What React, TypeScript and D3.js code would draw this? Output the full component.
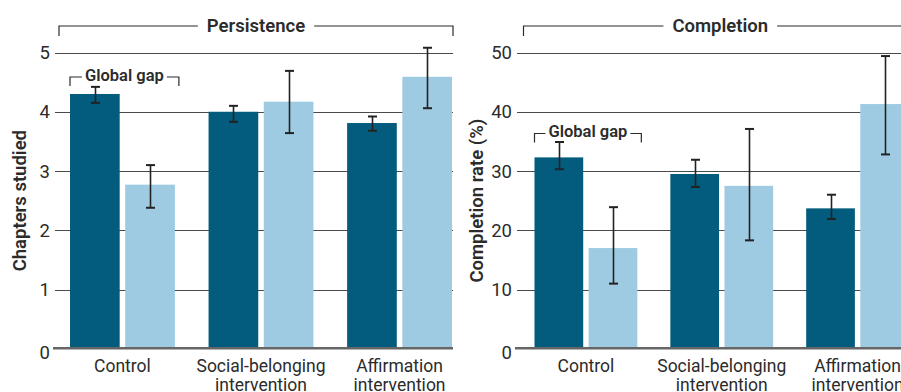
import { useEffect, useRef } from "react";
import * as d3 from "d3";

// Persistence & completion by intervention, two country groups.
const categories = ["Control", "Social-belonging intervention", "Affirmation intervention"];
const seriesNames = ["More-developed countries", "Less-developed countries"];

const persistenceDark = [4.3, 4.0, 3.81];
const persistenceLight = [2.77, 4.17, 4.59];
const persistenceDarkCI = [[4.15, 4.42], [3.83, 4.1], [3.68, 3.92]];
const persistenceLightCI = [[2.38, 3.1], [3.64, 4.69], [4.06, 5.08]];
const persistenceTicks = [0, 1, 2, 3, 4, 5];

const completionDark = [32.3, 29.5, 23.7];
const completionLight = [17.0, 27.5, 41.3];
const completionDarkCI = [[30.3, 34.9], [27.3, 31.9], [21.9, 26.0]];
const completionLightCI = [[11.0, 23.9], [18.3, 37.1], [32.8, 49.4]];
const completionTicks = [0, 10, 20, 30, 40, 50];

const DARK = "#035c7e";
const LIGHT = "#9ecbe2";
const INK = "#2b2b2b";
const FONT = "Roboto, 'Liberation Sans', sans-serif";

type Panel = {
  title: string;
  yTitle: string;
  dark: number[];
  light: number[];
  darkCI: number[][];
  lightCI: number[][];
  ticks: number[];
  max: number;
  gridX: [number, number];
  barX: [number, number];
  bracketX: [number, number];
  yTitleX: number;
  gapY: number;
};

const panels: Panel[] = [
  {
    title: "Persistence",
    yTitle: "Chapters studied",
    dark: persistenceDark,
    light: persistenceLight,
    darkCI: persistenceDarkCI,
    lightCI: persistenceLightCI,
    ticks: persistenceTicks,
    max: 5,
    gridX: [55, 453],
    barX: [70, 452],
    bracketX: [59, 453],
    yTitleX: 26,
    gapY: 77,
  },
  {
    title: "Completion",
    yTitle: "Completion rate (%)",
    dark: completionDark,
    light: completionLight,
    darkCI: completionDarkCI,
    lightCI: completionLightCI,
    ticks: completionTicks,
    max: 50,
    gridX: [517, 910],
    barX: [534.5, 909],
    bracketX: [523.5, 917],
    yTitleX: 483,
    gapY: 133.5,
  },
];

export default function App() {
  const svgRef = useRef<SVGSVGElement>(null);

  useEffect(() => {
    document.body.style.margin = "0";
    const svg = d3.select(svgRef.current);
    svg.selectAll("*").remove();

    const y0 = 348.8;
    const yTop = 52.5;

    panels.forEach((p) => {
      const g = svg.append("g");
      const y = d3.scaleLinear().domain([0, p.max]).range([y0, yTop]);
      const x0 = d3.scaleBand().domain(categories).range(p.barX).paddingInner(0.243).paddingOuter(0);
      const x1 = d3.scaleBand().domain(seriesNames).range([0, x0.bandwidth()]).paddingInner(0.1);

      // gridlines + tick labels
      p.ticks.forEach((t) => {
        if (t === 0) return;
        g.append("line")
          .attr("x1", p.gridX[0]).attr("x2", p.gridX[1])
          .attr("y1", Math.round(y(t)) + 0.5).attr("y2", Math.round(y(t)) + 0.5)
          .attr("stroke", "#4a4a4a").attr("stroke-width", 1);
      });
      p.ticks.forEach((t) => {
        g.append("text")
          .attr("x", p.gridX[0] - 5)
          .attr("y", y(t) + (t === 0 ? 4 : 0))
          .attr("dy", "0.36em")
          .attr("text-anchor", "end")
          .attr("font-size", 18.5)
          .attr("fill", INK)
          .text(t);
      });

      // bars
      const rows = categories.map((c, i) => [
        { cat: c, s: seriesNames[0], v: p.dark[i], ci: p.darkCI[i], color: DARK },
        { cat: c, s: seriesNames[1], v: p.light[i], ci: p.lightCI[i], color: LIGHT },
      ]).flat();

      g.selectAll("rect.bar")
        .data(rows)
        .join("rect")
        .attr("x", (d) => x0(d.cat)! + x1(d.s)!)
        .attr("y", (d) => y(d.v))
        .attr("width", x1.bandwidth())
        .attr("height", (d) => y(0) - y(d.v))
        .attr("fill", (d) => d.color);

      // baseline
      g.append("line")
        .attr("x1", p.gridX[0] - 2).attr("x2", p.gridX[1])
        .attr("y1", y0 - 0.5).attr("y2", y0 - 0.5)
        .attr("stroke", "#666").attr("stroke-width", 2.5);

      // error bars
      rows.forEach((d) => {
        const cx = Math.round(x0(d.cat)! + x1(d.s)! + x1.bandwidth() / 2) + 0.5;
        const eg = g.append("g").attr("stroke", "#222").attr("stroke-width", 1.6);
        eg.append("line").attr("x1", cx).attr("x2", cx).attr("y1", y(d.ci[0])).attr("y2", y(d.ci[1]));
        [d.ci[0], d.ci[1]].forEach((v) => {
          eg.append("line").attr("x1", cx - 4.5).attr("x2", cx + 4.5).attr("y1", y(v)).attr("y2", y(v)).attr("stroke-width", 2);
        });
      });

      // category labels
      categories.forEach((c) => {
        const cx = x0(c)! + x0.bandwidth() / 2;
        const words = c.split(" ");
        const t = g.append("text")
          .attr("text-anchor", "middle")
          .attr("font-size", 17.5)
          .attr("fill", INK);
        words.forEach((w, i) => {
          t.append("tspan").attr("x", cx).attr("y", 372 + i * 19).text(w);
        });
      });

      // header bracket
      const hy = 26;
      const mid = (p.bracketX[0] + p.bracketX[1]) / 2;
      const ht = g.append("text")
        .attr("x", mid).attr("y", hy + 5.5)
        .attr("text-anchor", "middle")
        .attr("font-size", 18.5)
        .attr("font-weight", 600)
        .attr("fill", INK)
        .text(p.title);
      const hw = (ht.node() as SVGTextElement).getComputedTextLength();
      g.append("path")
        .attr("d", `M${p.bracketX[0]},${hy + 10}V${hy}H${mid - hw / 2 - 9}M${mid + hw / 2 + 9},${hy}H${p.bracketX[1]}V${hy + 10}`)
        .attr("fill", "none").attr("stroke", INK).attr("stroke-width", 1.2);

      // y title
      g.append("text")
        .attr("transform", `translate(${p.yTitleX},${(y0 + yTop) / 2}) rotate(-90)`)
        .attr("text-anchor", "middle")
        .attr("font-size", 18.5)
        .attr("font-weight", 600)
        .attr("fill", INK)
        .text(p.yTitle);

      // global gap annotation over control group
      const gx0 = x0(categories[0])!;
      const gx1 = gx0 + x0.bandwidth() + 4;
      const gmid = (gx0 + gx1) / 2;
      const gt = g.append("text")
        .attr("x", gmid).attr("y", p.gapY + 3.8)
        .attr("text-anchor", "middle")
        .attr("font-size", 16.5)
        .attr("font-weight", 600)
        .attr("fill", INK)
        .text("Global gap");
      const gw = (gt.node() as SVGTextElement).getComputedTextLength();
      g.append("path")
        .attr("d", `M${gx0},${p.gapY + 9}V${p.gapY}H${gmid - gw / 2 - 3}M${gmid + gw / 2 + 3},${p.gapY}H${gx1}V${p.gapY + 9}`)
        .attr("fill", "none").attr("stroke", INK).attr("stroke-width", 1.2);
    });
  }, []);

  return (
    <svg
      ref={svgRef}
      width={901}
      height={392}
      style={{ display: "block", background: "#fff", fontFamily: FONT }}
    />
  );
}
